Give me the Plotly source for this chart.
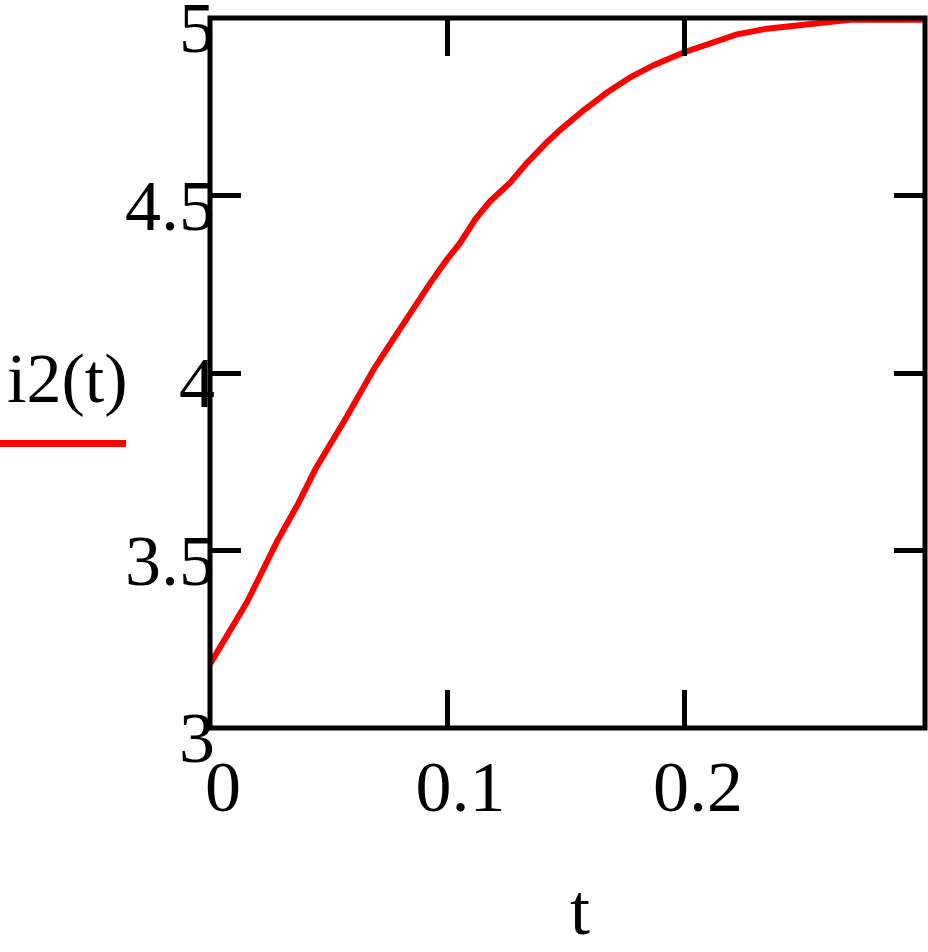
import plotly.graph_objects as go

# ---- data ----
t_vals = [0.0, 0.0156, 0.0282, 0.0373, 0.0443, 0.0514, 0.0577, 0.0633, 0.0689,
          0.0752, 0.0815, 0.0872, 0.0928, 0.0998, 0.1054, 0.1117, 0.118, 0.1264,
          0.1335, 0.1419, 0.1475, 0.1573, 0.1672, 0.177, 0.1868, 0.1994, 0.212,
          0.2219, 0.2345, 0.2556, 0.2696, 0.3011]
i2_vals = [3.18, 3.355, 3.525, 3.634, 3.728, 3.812, 3.878, 3.944, 4.010,
           4.075, 4.141, 4.198, 4.254, 4.320, 4.367, 4.433, 4.484, 4.536,
           4.592, 4.650, 4.685, 4.740, 4.790, 4.833, 4.867, 4.903, 4.933,
           4.954, 4.970, 4.985, 4.995, 4.995]

x_tickvals = [0, 0.1, 0.2]
x_ticktext = ["0", "0.1", "0.2"]
y_tickvals = [3, 3.5, 4, 4.5, 5]
y_ticktext = ["3", "3.5", "4", "4.5", "5"]

x_range = [0, 0.3011]
y_range = [3, 5]

y_label = "i2(t)"
x_label = "t"

# ---- layout geometry (pixels) ----
W, H = 928, 952
ML, MR, MT, MB = 210, 3, 18, 224
PW, PH = W - ML - MR, H - MT - MB


def px_x(p):
    return (p - ML) / PW


def px_y(p):
    return (H - MB - p) / PH


FONT = "Liberation Serif, Times New Roman, serif"
FS = 72

fig = go.Figure()
fig.add_trace(go.Scatter(x=t_vals, y=i2_vals, mode="lines",
                         line=dict(color="#ff0000", width=6),
                         showlegend=False, hoverinfo="skip"))

axis_common = dict(showline=False, mirror="ticks", automargin=False,
                   ticks="inside", tickcolor="black", tickwidth=5,
                   showgrid=False, zeroline=False, ticklabeloverflow="allow",
                   tickfont=dict(family=FONT, size=FS, color="black"))

fig.update_xaxes(range=x_range, tickmode="array", tickvals=x_tickvals,
                 ticktext=x_ticktext, ticklen=38, ticklabelshift=13,
                 ticklabelstandoff=10, **axis_common)
fig.update_yaxes(range=y_range, tickmode="array", tickvals=y_tickvals,
                 ticktext=y_ticktext, ticklen=31, ticklabelshift=9,
                 ticklabelstandoff=-6, **axis_common)

# plot frame
fig.add_shape(type="rect", xref="paper", yref="paper", x0=0, x1=1, y0=0, y1=1,
              line=dict(color="black", width=5), layer="above")

fig.add_annotation(text=y_label, xref="paper", yref="paper",
                   x=px_x(67), y=px_y(378), xanchor="center", yanchor="middle",
                   showarrow=False, font=dict(family=FONT, size=70, color="black"))
fig.add_annotation(text=x_label, xref="paper", yref="paper",
                   x=px_x(580), y=px_y(910), xanchor="center", yanchor="middle",
                   showarrow=False, font=dict(family=FONT, size=FS, color="black"))
fig.add_shape(type="line", xref="paper", yref="paper",
              x0=px_x(0), x1=px_x(126), y0=px_y(443.5), y1=px_y(443.5),
              line=dict(color="#ff0000", width=7))

fig.update_layout(width=W, height=H, margin=dict(l=ML, r=MR, t=MT, b=MB, autoexpand=False),
                  plot_bgcolor="white", paper_bgcolor="white")

fig.write_html("out.html", config={"displayModeBar": False},
               post_script="document.body.style.margin='0px';"
                           "document.body.style.overflow='hidden';")
